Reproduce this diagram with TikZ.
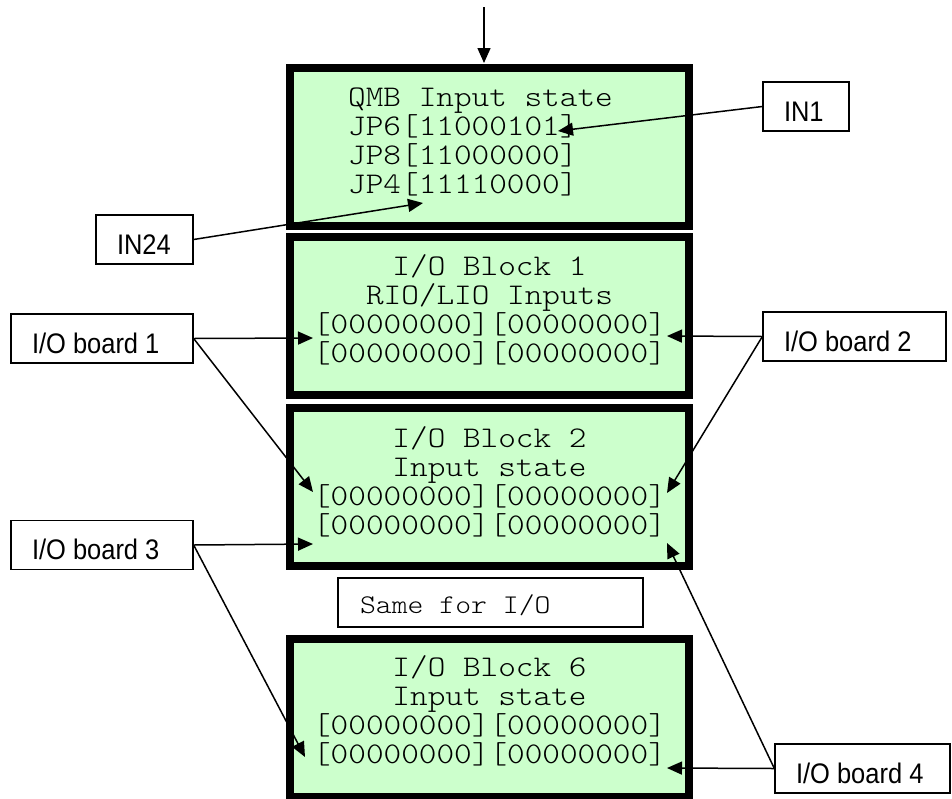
\documentclass[tikz,border=0pt]{standalone}
\usepackage{fontspec}
\usepackage{tikz}
\usetikzlibrary{positioning, arrows.meta}

\newfontfamily\lcdfont{Latin Modern Mono Light}[FakeStretch=1.12]
\newfontfamily\tagfont{Liberation Sans}[FakeStretch=0.9]
\definecolor{lcdgreen}{RGB}{204,255,204}
\newcommand{\padtext}[2]{\makebox[#1][l]{#2}}

\begin{document}
\begin{tikzpicture}[
				x=1pt, y=-1pt,
				block/.style={draw=black, line width=8pt, fill=lcdgreen, minimum width=399pt, minimum height=158pt, inner sep=0pt},
				lcd/.style={font=\lcdfont\fontsize{30}{30}\selectfont, inner sep=0pt},
				tag/.style={draw=black, line width=1.3pt, fill=white, inner xsep=21pt, inner ysep=0pt, minimum height=49pt, text height=29pt, text depth=0pt, font=\tagfont\fontsize{28.3}{28.3}\selectfont},
				note/.style={draw=black, line width=1.3pt, fill=white, inner xsep=22pt, inner ysep=0pt, minimum height=49pt, text height=21pt, text depth=0pt, font=\lcdfont\fontsize{27}{27}\selectfont},
				ptr/.style={-{Triangle[length=15pt, width=13pt]}, line width=1.5pt}
			]

			\useasboundingbox (0,0) rectangle (952,798);

			\def \dy {29.3}

			% green display blocks
			\foreach \n/\y in {0/147, 1/316, 2/487, 6/718} {
					\node[block] (blk\n) at (489.5,\y) {};
				}

			% QMB lines
			\foreach \t [count=\i] in {QMB Input state, JP6[11000101], JP8[11000000], JP4[11110000]} {
					\node[lcd, anchor=base west] (qmb-\i) at (348, 76.7 + \i * \dy) {\t};
				}

			% I/O block lines
			\foreach \n/\y/\s in {1/275/{RIO/LIO Inputs}, 2/447/{Input state}, 6/676/{Input state}} {
					\node[lcd, anchor=base] (ttl-\n) at (489.5, \y) {I/O Block \n};
					\node[lcd, anchor=base] (sub-\n) at (489.5, \y + \dy) {\s};
					\node[lcd, anchor=base] (row-\n-1) at (489.5, \y + 2 * \dy) {[00000000][00000000]};
					\node[lcd, anchor=base] (row-\n-2) at (489.5, \y + 3 * \dy) {[00000000][00000000]};
				}

			\node[note] (same) at (490.5,602.5) {\padtext{261pt}{Same for I/O}};

			% labels
			\node[tag] (in1) at (806,106.5) {\padtext{44pt}{IN1}};
			\node[tag] (in24) at (144.5,239.5) {\padtext{55pt}{IN24}};
			\node[tag] (board1) at (102,338.5) {\padtext{140pt}{I/O board 1}};
			\node[tag] (board2) at (854.5,336.5) {\padtext{141pt}{I/O board 2}};
			\node[tag] (board3) at (102,545) {\padtext{140pt}{I/O board 3}};
			\node[tag] (board4) at (862.5,768.5) {\padtext{133pt}{I/O board 4}};

			% arrow ends
			\coordinate (feed) at (484,7);
			\coordinate (feed-tip) at (484,63);
			\coordinate (in1-tip) at (558,131);
			\coordinate (in24-tip) at (423,203);
			\coordinate (b1-tip1) at (313,338);
			\coordinate (b1-tip2) at (313,492);
			\coordinate (b2-tip1) at (667,336);
			\coordinate (b2-tip2) at (667,493);
			\coordinate (b3-tip1) at (313,544);
			\coordinate (b3-tip2) at (305,757);
			\coordinate (b4-tip1) at (667,768);
			\coordinate (b4-tip2) at (667,543);

			\draw[ptr] (feed) -- (feed-tip);
			\draw[ptr] (in1.west) -- (in1-tip);
			\draw[ptr] (in24.east) -- (in24-tip);
			\foreach \j in {1, 2} {
					\draw[ptr] (board1.east) -- (b1-tip\j);
					\draw[ptr] (board2.west) -- (b2-tip\j);
					\draw[ptr] (board3.east) -- (b3-tip\j);
					\draw[ptr] (board4.west) -- (b4-tip\j);
				}

		\end{tikzpicture}
\end{document}
